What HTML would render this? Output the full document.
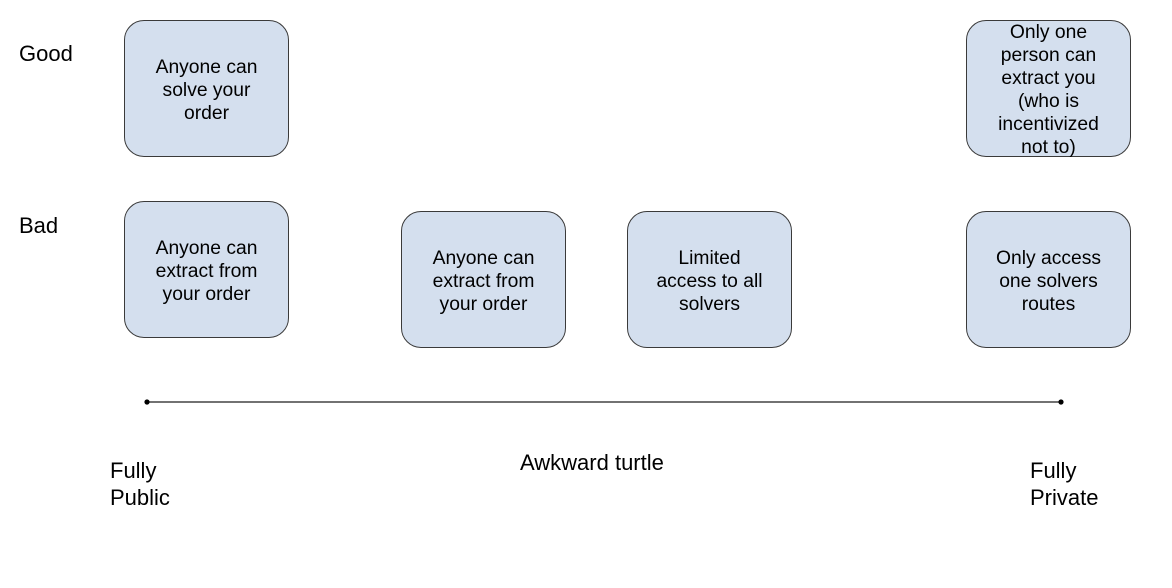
<!DOCTYPE html>
<html><head><meta charset="utf-8"><style>
html,body{margin:0;padding:0;background:#fff;}
body{width:1172px;height:588px;position:relative;overflow:hidden;font-family:"Liberation Sans",Arial,sans-serif;color:#000;}
.b{position:absolute;box-sizing:border-box;width:165px;height:137px;border:1.3px solid #3a3a3a;border-radius:20px;background:#d4dfee;display:flex;align-items:center;justify-content:center;text-align:center;font-size:19.3px;line-height:23px;padding-top:3px;}
.t{position:absolute;font-size:22px;line-height:27px;white-space:nowrap;}
</style></head><body>
<div class="b" style="left:124px;top:20px;">Anyone can<br>solve your<br>order</div>
<div class="b" style="left:124px;top:201px;">Anyone can<br>extract from<br>your order</div>
<div class="b" style="left:401px;top:211px;">Anyone can<br>extract from<br>your order</div>
<div class="b" style="left:627px;top:211px;">Limited<br>access to all<br>solvers</div>
<div class="b" style="left:966px;top:20px;">Only one<br>person can<br>extract you<br>(who is<br>incentivized<br>not to)</div>
<div class="b" style="left:966px;top:211px;">Only access<br>one solvers<br>routes</div>
<div class="t" style="left:19px;top:40px;">Good</div>
<div class="t" style="left:19px;top:212px;">Bad</div>
<svg style="position:absolute;left:0;top:0" width="1172" height="588">
<line x1="147" y1="402" x2="1061" y2="402" stroke="#444" stroke-width="1.5"/>
<circle cx="147" cy="402" r="2.6" fill="#000"/>
<circle cx="1061" cy="402" r="2.6" fill="#000"/>
</svg>
<div class="t" style="left:110px;top:457px;">Fully<br>Public</div>
<div class="t" style="left:520px;top:449px;">Awkward turtle</div>
<div class="t" style="left:1030px;top:457px;">Fully<br>Private</div>
</body></html>
